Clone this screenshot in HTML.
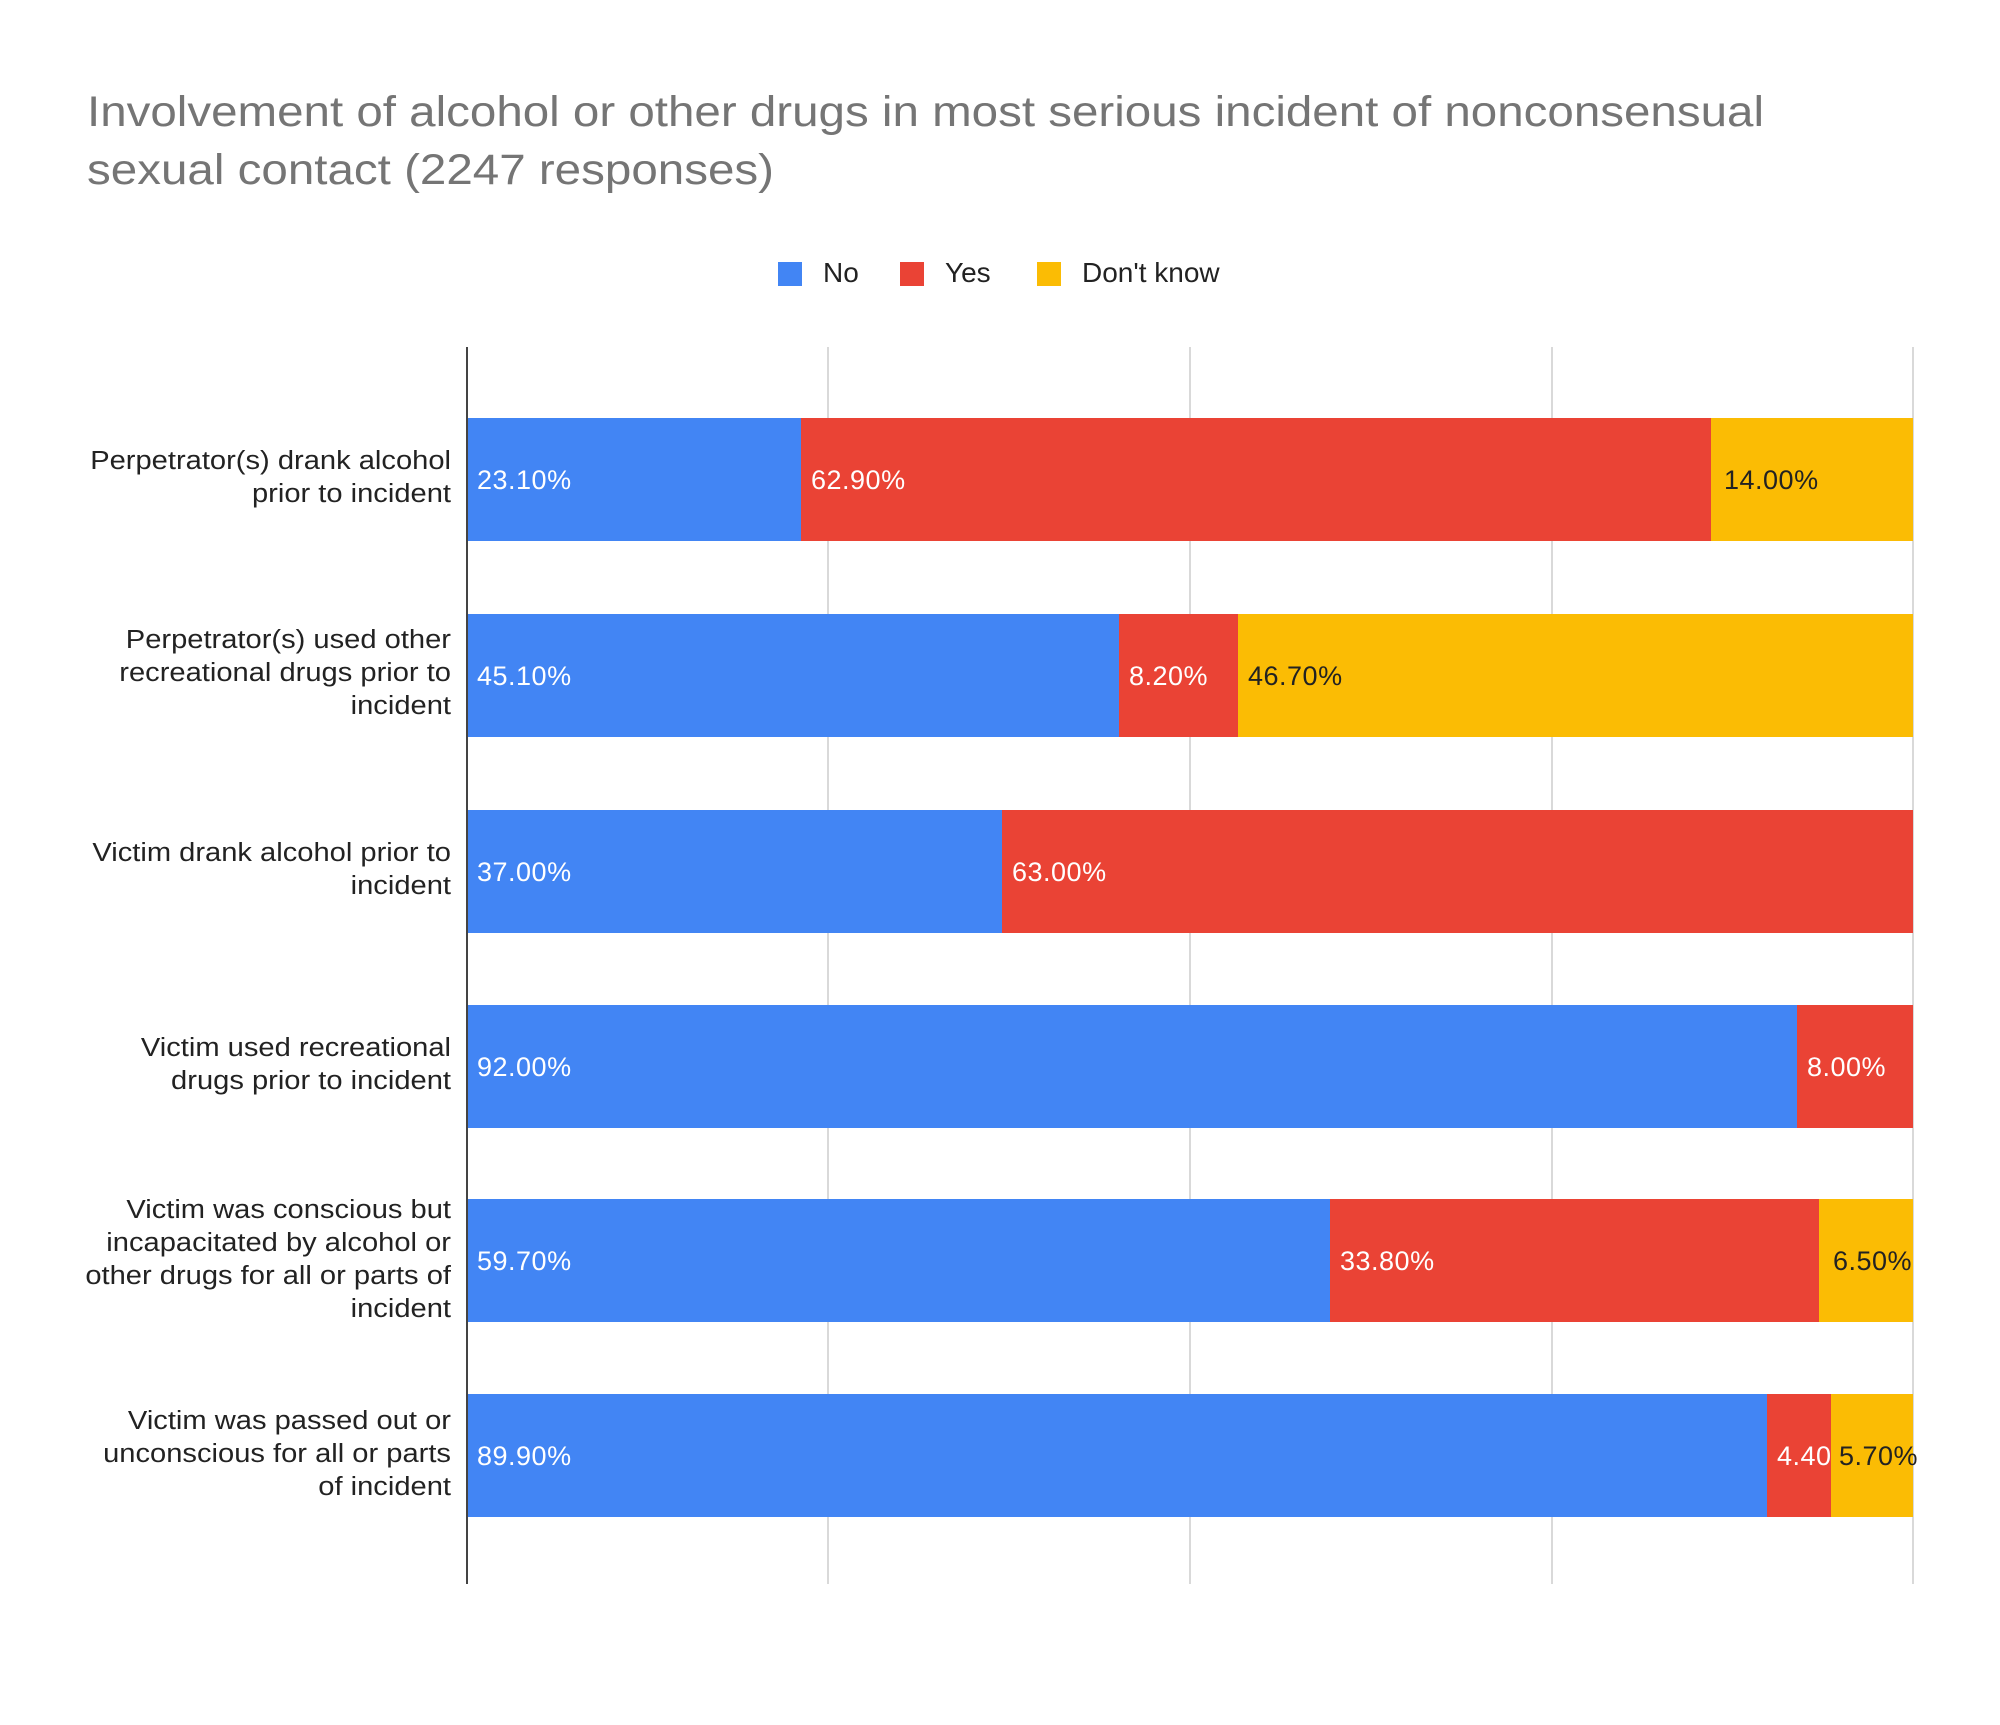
<!DOCTYPE html>
<html><head><meta charset="utf-8"><style>body{margin:0;background:#fff}</style></head><body>
<svg width="2000" height="1720" xmlns="http://www.w3.org/2000/svg" font-family="Liberation Sans, sans-serif">
<rect width="2000" height="1720" fill="#fff"/>
<text x="87" y="126" font-size="43" fill="#757575" textLength="1677" lengthAdjust="spacingAndGlyphs">Involvement of alcohol or other drugs in most serious incident of nonconsensual</text>
<text x="87" y="184" font-size="43" fill="#757575" textLength="687" lengthAdjust="spacingAndGlyphs">sexual contact (2247 responses)</text>
<rect x="778" y="262" width="24" height="24" fill="#4285F4"/><text x="823" y="282" font-size="28" fill="#222">No</text>
<rect x="900" y="262" width="24" height="24" fill="#EA4335"/><text x="945" y="282" font-size="28" fill="#222">Yes</text>
<rect x="1037" y="262" width="24" height="24" fill="#FBBC04"/><text x="1082" y="282" font-size="28" fill="#222">Don't know</text>
<g stroke="#d9d9d9" stroke-width="2"><line x1="828" y1="347" x2="828" y2="1584"/><line x1="1190" y1="347" x2="1190" y2="1584"/><line x1="1552" y1="347" x2="1552" y2="1584"/><line x1="1913" y1="347" x2="1913" y2="1584"/></g>
<rect x="467" y="418" width="334" height="123" fill="#4285F4"/><rect x="801" y="418" width="910" height="123" fill="#EA4335"/><rect x="1711" y="418" width="202" height="123" fill="#FBBC04"/>
<rect x="467" y="614" width="652" height="123" fill="#4285F4"/><rect x="1119" y="614" width="119" height="123" fill="#EA4335"/><rect x="1238" y="614" width="675" height="123" fill="#FBBC04"/>
<rect x="467" y="810" width="535" height="123" fill="#4285F4"/><rect x="1002" y="810" width="911" height="123" fill="#EA4335"/>
<rect x="467" y="1005" width="1330" height="123" fill="#4285F4"/><rect x="1797" y="1005" width="116" height="123" fill="#EA4335"/>
<rect x="467" y="1199" width="863" height="123" fill="#4285F4"/><rect x="1330" y="1199" width="489" height="123" fill="#EA4335"/><rect x="1819" y="1199" width="94" height="123" fill="#FBBC04"/>
<rect x="467" y="1394" width="1300" height="123" fill="#4285F4"/><rect x="1767" y="1394" width="64" height="123" fill="#EA4335"/><rect x="1831" y="1394" width="82" height="123" fill="#FBBC04"/>
<g font-size="27" letter-spacing="0.5">
<text x="477" y="489" fill="#fff">23.10%</text><text x="811" y="489" fill="#fff">62.90%</text><text x="1724" y="489" fill="#222">14.00%</text>
<text x="477" y="685" fill="#fff">45.10%</text><text x="1129" y="685" fill="#fff">8.20%</text><text x="1248" y="685" fill="#222">46.70%</text>
<text x="477" y="881" fill="#fff">37.00%</text><text x="1012" y="881" fill="#fff">63.00%</text>
<text x="477" y="1076" fill="#fff">92.00%</text><text x="1807" y="1076" fill="#fff">8.00%</text>
<text x="477" y="1270" fill="#fff">59.70%</text><text x="1340" y="1270" fill="#fff">33.80%</text><text x="1833" y="1270" fill="#222">6.50%</text>
<text x="477" y="1465" fill="#fff">89.90%</text><text x="1777" y="1465" fill="#fff">4.40</text><text x="1839" y="1465" fill="#222">5.70%</text>
</g>
<line x1="467" y1="347" x2="467" y2="1584" stroke="#444" stroke-width="2"/>
<g font-size="26" fill="#222" text-anchor="end" transform="translate(451,0) scale(1.12,1) translate(-451,0)">
<text x="451" y="469">Perpetrator(s) drank alcohol</text><text x="451" y="502">prior to incident</text>
<text x="451" y="648">Perpetrator(s) used other</text><text x="451" y="681">recreational drugs prior to</text><text x="451" y="714">incident</text>
<text x="451" y="861">Victim drank alcohol prior to</text><text x="451" y="894">incident</text>
<text x="451" y="1056">Victim used recreational</text><text x="451" y="1089">drugs prior to incident</text>
<text x="451" y="1218">Victim was conscious but</text><text x="451" y="1251">incapacitated by alcohol or</text><text x="451" y="1284">other drugs for all or parts of</text><text x="451" y="1317">incident</text>
<text x="451" y="1429">Victim was passed out or</text><text x="451" y="1462">unconscious for all or parts</text><text x="451" y="1495">of incident</text>
</g>
</svg>
</body></html>
